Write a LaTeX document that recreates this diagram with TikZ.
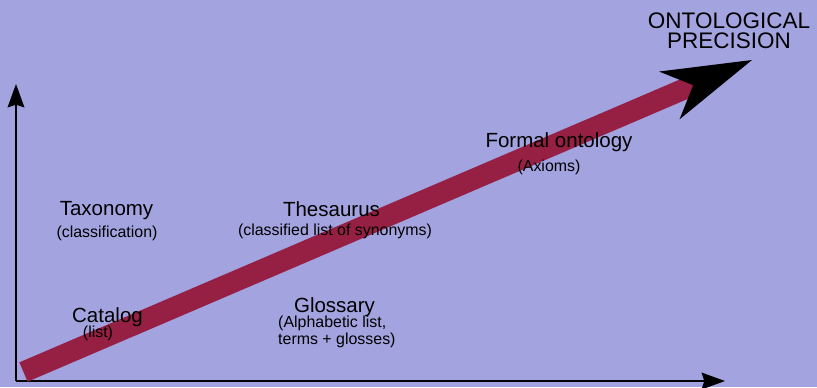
\documentclass[tikz,border=0pt]{standalone}
\usepackage{fontspec}
\setmainfont{Liberation Sans}
\usetikzlibrary{arrows.meta}
\definecolor{lavbg}{RGB}{163,163,224}
\definecolor{bandred}{RGB}{149,32,68}
\tikzset{axis/.style={line width=1.8pt,-{Stealth[length=0.7cm,width=0.5cm,inset=0.08cm]}},
         band/.style={bandred,line width=0.63cm,
           -{Stealth[length=2.7cm,width=1.56cm,inset=0.78cm,color=black,line width=0pt]}},
         lab/.style={anchor=base,inner sep=0pt,font=\fontsize{17.5}{20}\selectfont},
    sublab/.style={anchor=base,inner sep=0pt,font=\fontsize{13.6}{14.5}\selectfont},
    toplab/.style={anchor=base,inner sep=0pt,align=center,font=\fontsize{19.2}{17}\selectfont}
         }
\begin{document}
\begin{tikzpicture}[x=0.03cm,y=-0.03cm]
  \fill[lavbg] (0,0) rectangle (817,387);
  \useasboundingbox (0,0) rectangle (817,387);

  \coordinate (o) at (16,381);
  \coordinate (ytop) at (16,84);
  \coordinate (xend) at (725,381);
  \draw[axis] (o) -- (ytop);
  \draw[axis] (o) -- (xend);

  \coordinate (start) at (23.5,372);
  \coordinate (tip) at (752,60);
  \draw[band] (start) -- (tip);

  % multi-line nodes sit on the baseline of their last line
  \node[toplab] (prec) at (729,48) {ONTOLOGICAL\\PRECISION};
  \node[lab] (tax) at (106.5,215) {Taxonomy};
  \node[sublab] (taxsub) at (107,237) {(classification)};
  \node[lab] (cat) at (107.5,322) {Catalog};
  \node[sublab] (catsub) at (98,337) {(list)};
  \node[lab] (thes) at (331.5,216) {Thesaurus};
  \node[sublab] (thessub) at (335,235) {(classified list of synonyms)};
  \node[lab] (glos) at (334.5,312) {Glossary};
  \node[sublab,anchor=base west,align=left] (glossub) at (278,344) {(Alphabetic list,\\terms + glosses)};
  \node[lab] (form) at (559,147) {Formal ontology};
  \node[sublab] (formsub) at (549,171) {(Axioms)};
\end{tikzpicture}
\end{document}
